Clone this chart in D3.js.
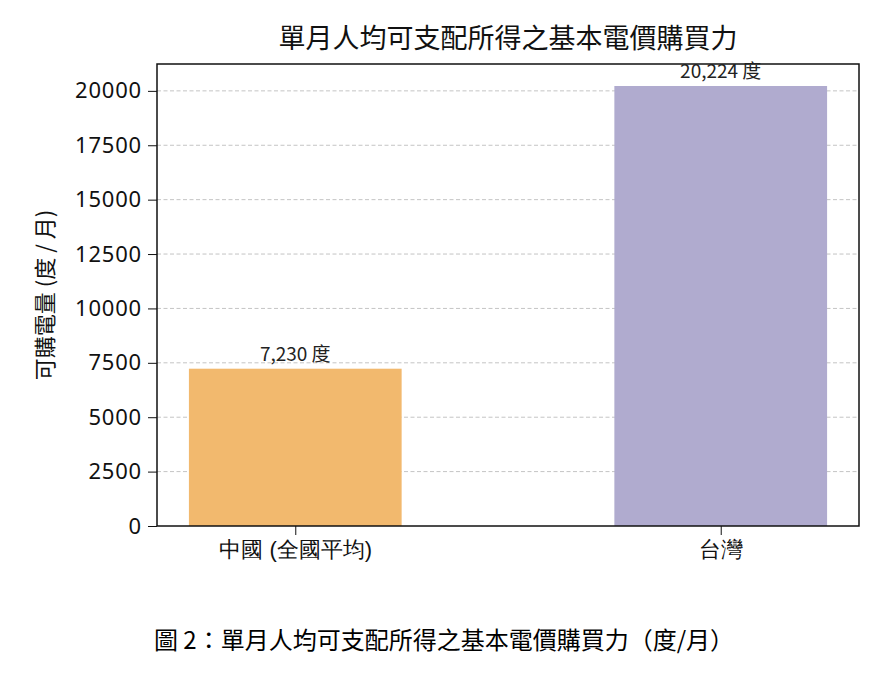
<!DOCTYPE html>
<html>
<head>
<meta charset="utf-8">
<script src="https://cdn.jsdelivr.net/npm/d3@7"></script>
<style>
  body { margin: 0; background: #fff; }
  svg { font-family: "Noto Sans CJK TC", "Noto Sans", sans-serif; }
</style>
</head>
<body>
<svg id="chart" width="888" height="674"></svg>
<script>
const categories = ['中國 (全國平均)', '台灣'];
const values = [7230, 20224];
const valueLabels = ['7,230 度', '20,224 度'];
const colors = ['#f2b96e', '#b0abcf'];
const yTicks = [0, 2500, 5000, 7500, 10000, 12500, 15000, 17500, 20000];

const margin = { top: 64, right: 29, bottom: 148, left: 157 };
const width = 888 - margin.left - margin.right;
const height = 674 - margin.top - margin.bottom;

const svg = d3.select('#chart');
const g = svg.append('g').attr('transform', `translate(${margin.left},${margin.top})`);

// matplotlib-like numeric x positions, bar width 0.5
const x = d3.scaleLinear().domain([-0.325, 1.325]).range([0, width]);
const y = d3.scaleLinear().domain([0, d3.max(values) * 1.05]).range([height, 0]);

// grid
g.append('g')
  .selectAll('line')
  .data(yTicks.filter(d => d > 0))
  .join('line')
  .attr('x1', 0).attr('x2', width)
  .attr('y1', d => y(d)).attr('y2', d => y(d))
  .attr('stroke', '#c4c4c4')
  .attr('stroke-width', 1)
  .attr('stroke-dasharray', '4,2.5');

// bars
g.append('g')
  .selectAll('rect')
  .data(values)
  .join('rect')
  .attr('x', (d, i) => x(i - 0.25))
  .attr('width', x(0.5) - x(0))
  .attr('y', d => y(d))
  .attr('height', d => height - y(d))
  .attr('fill', (d, i) => colors[i]);

// frame
g.append('rect')
  .attr('width', width).attr('height', height)
  .attr('fill', 'none').attr('stroke', '#111').attr('stroke-width', 1.5);

// value labels (drawn over the frame, as in the original)
g.append('g')
  .selectAll('text')
  .data(values)
  .join('text')
  .attr('x', (d, i) => x(i))
  .attr('y', d => y(d) - 8)
  .attr('text-anchor', 'middle')
  .attr('font-size', 19)
  .attr('fill', '#222')
  .text((d, i) => valueLabels[i]);

// axes
const yAxis = g.append('g')
  .call(d3.axisLeft(y).tickValues(yTicks).tickSize(9).tickPadding(6).tickFormat(d3.format('d')));
yAxis.select('.domain').remove();
yAxis.selectAll('text')
  .attr('font-family', '"Noto Sans", sans-serif')
  .attr('font-size', 22)
  .attr('letter-spacing', 0.8)
  .attr('fill', '#111');
yAxis.selectAll('line').attr('stroke', '#111');

const xAxis = g.append('g')
  .attr('transform', `translate(0,${height})`)
  .call(d3.axisBottom(x).tickValues([0, 1]).tickSize(9).tickPadding(6).tickFormat((d, i) => categories[i]));
xAxis.select('.domain').remove();
xAxis.selectAll('text').attr('font-size', 22).attr('fill', '#111');
xAxis.selectAll('line').attr('stroke', '#111');

// title
svg.append('text')
  .attr('x', margin.left + width / 2)
  .attr('y', 48)
  .attr('text-anchor', 'middle')
  .attr('font-size', 27)
  .attr('fill', '#111')
  .text('單月人均可支配所得之基本電價購買力');

// y label
svg.append('text')
  .attr('transform', `translate(53,${margin.top + height / 2}) rotate(-90)`)
  .attr('text-anchor', 'middle')
  .attr('font-size', 22)
  .attr('fill', '#111')
  .text('可購電量 (度 / 月)');

// caption
svg.append('text')
  .attr('x', 444)
  .attr('y', 649)
  .attr('text-anchor', 'middle')
  .attr('font-size', 24)
  .attr('fill', '#000')
  .text('圖 2：單月人均可支配所得之基本電價購買力（度/月）');
</script>
</body>
</html>
